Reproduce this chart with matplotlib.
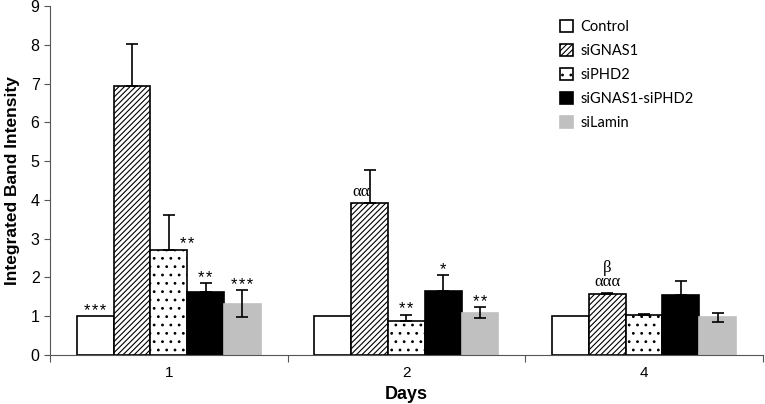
import numpy as np
import matplotlib
matplotlib.use('Agg')
import matplotlib.pyplot as plt

plt.rcParams['font.family'] = ['Liberation Sans', 'DejaVu Sans']
plt.rcParams['hatch.linewidth'] = 0.8

# Data
days = ['1', '2', '4']
series = ['Control', 'siGNAS1', 'siPHD2', 'siGNAS1-siPHD2', 'siLamin']

control = [1.0, 1.0, 1.0]
signas1 = [6.95, 3.93, 1.58]
siphd2 = [2.70, 0.87, 1.02]
signas1_siphd2 = [1.62, 1.64, 1.56]
silamin = [1.32, 1.09, 0.97]

# lower / upper error lengths
control_err = ([0, 0, 0], [0, 0, 0])
signas1_err = ([0, 0, 0], [1.07, 0.83, 0.03])
siphd2_err = ([0, 0, 0], [0.90, 0.17, 0.03])
signas1_siphd2_err = ([0, 0, 0], [0.23, 0.43, 0.36])
silamin_err = ([0.34, 0.14, 0.11], [0.35, 0.14, 0.11])

# significance marks: (day index, series index, label)
marks = [
    (0, 0, '***'), (0, 2, '**'), (0, 3, '**'), (0, 4, '***'),
    (1, 1, 'αα'), (1, 2, '**'), (1, 3, '*'), (1, 4, '**'),
    (2, 1, 'β\nααα'),
]

values = [control, signas1, siphd2, signas1_siphd2, silamin]
errors = [control_err, signas1_err, siphd2_err, signas1_siphd2_err, silamin_err]
styles = [
    dict(color='white', edgecolor='black', hatch=None),
    dict(color='white', edgecolor='black', hatch='//////'),
    dict(color='white', edgecolor='black', hatch='..'),
    dict(color='black', edgecolor='black', hatch=None),
    dict(color='#c0c0c0', edgecolor='#c0c0c0', hatch=None),
]

fig = plt.figure(figsize=(7.65, 4.04), dpi=100)
ax = fig.add_axes([0.0654, 0.1213, 0.9316, 0.8637])

width = 0.155
x = np.arange(len(days)) + 0.5
handles = []
for i, (vals, err, st) in enumerate(zip(values, errors, styles)):
    pos = x + (i - 2) * width
    b = ax.bar(pos, vals, width, color=st['color'], edgecolor=st['edgecolor'],
               hatch=st['hatch'], linewidth=1.2, label=series[i], zorder=2)
    handles.append(b)
    lo, hi = np.array(err[0]), np.array(err[1])
    keep = (lo + hi) > 0
    ax.errorbar(pos[keep], np.array(vals)[keep], yerr=[lo[keep], hi[keep]],
                fmt='none', ecolor='black', elinewidth=1.2, capsize=4,
                capthick=1.2, zorder=3)

for d, s, lab in marks:
    pos = x[d] + (s - 2) * width
    top = values[s][d] + errors[s][1][d]
    if lab.startswith('*'):
        txt = '\u200a'.join(lab)
        if d == 0 and s == 2:
            ax.annotate(txt, (pos + 0.3 * width, values[s][d]), xytext=(0, 1),
                        textcoords='offset points', ha='left', va='baseline',
                        fontsize=12)
        else:
            ax.annotate(txt, (pos, top), xytext=(0, 0.5),
                        textcoords='offset points', ha='center', va='baseline',
                        fontsize=12)
    elif lab == 'αα':
        ax.annotate(lab, (pos - 0.22 * width, values[s][d]), xytext=(0, 2),
                    textcoords='offset points', ha='center', va='bottom',
                    fontsize=12, family='Liberation Serif')
    else:
        ax.annotate(lab, (pos, top), xytext=(0, 2),
                    textcoords='offset points', ha='center', va='bottom',
                    fontsize=12, family='Liberation Serif', linespacing=0.85)

ax.set_xlim(0, len(days))
ax.set_ylim(0, 9)
ax.set_yticks(range(0, 10))
ax.set_xticks(np.arange(len(days) + 1))
ax.set_xticklabels([])
ax.set_xticks(x, minor=True)
ax.set_xticklabels(days, minor=True)
ax.tick_params(axis='x', which='minor', length=0, pad=8, labelsize=11)
ax.tick_params(axis='x', which='major', length=5, color='#555555')
ax.tick_params(axis='y', length=4, color='#555555', labelsize=11.5)
for sp in ['top', 'right']:
    ax.spines[sp].set_visible(False)
for sp in ['left', 'bottom']:
    ax.spines[sp].set_color('#555555')

ax.set_xlabel('Days', fontsize=13, fontweight='bold', labelpad=4)
ax.set_ylabel('Integrated Band Intensity', fontsize=12.5, fontweight='bold',
              labelpad=8)

leg = ax.legend(handles=handles, loc='upper left', bbox_to_anchor=(0.697, 0.997),
                frameon=False, handlelength=0.9, handleheight=0.9,
                labelspacing=0.68, handletextpad=0.5,
                prop={'family': 'Lato', 'size': 10.5})

fig.savefig('out.png', dpi=100)
